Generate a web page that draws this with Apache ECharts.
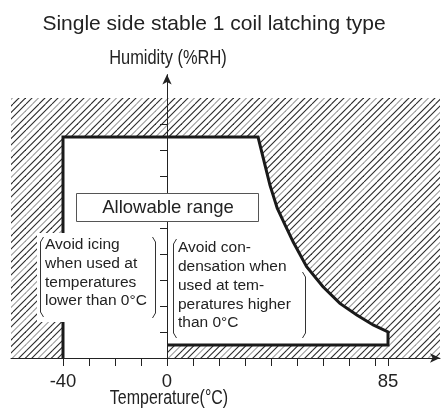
<!DOCTYPE html>
<html>
<head>
<meta charset="utf-8">
<script src="https://cdn.jsdelivr.net/npm/echarts@6/dist/echarts.min.js"></script>
<style>
html,body{margin:0;padding:0;background:#fff;}
#c{width:441px;height:415px;}
</style>
</head>
<body>
<div id="c"></div>
<script>
// ---- data ----
const titleText = 'Single side stable 1 coil latching type';
const xName = 'Temperature(°C)';
const yName = 'Humidity (%RH)';
const xTickValues = [-40, -30, -20, -10, 0, 10, 20, 30, 40, 50, 60, 70, 80, 85];
const xLabelValues = [-40, 0, 85];
const yTickValues = [10, 20, 30, 40, 50, 60, 70, 80, 90];
const yLabelValues = [5, 85];
const hatchTemp = [-60, 105];
const hatchHum = [0, 100];
// boundary of the allowable range (temperature °C, humidity %RH)
const boundaryTemp = [0, 85, 85, 79.3, 73, 66.5, 60, 53.7, 48.6, 45.4, 42.4, 39.6, 37, 35, -40, -40];
const boundaryHum  = [5, 5, 10, 12.7, 16.5, 21, 27.4, 35.1, 44.5, 51.2, 57.6, 66.5, 77, 85, 85, 0];
const fillCloseTemp = [0];
const fillCloseHum = [0];
const rangeLabel = 'Allowable range';
const iceLines = ['Avoid icing', 'when used at', 'temperatures', 'lower than 0°C'];
const condLines = ['Avoid con-', 'densation when', 'used at tem-', 'peratures higher', 'than 0°C'];

// ---- hatch pattern ----
function makeHatch() {
  const S = 26, s = 6.5;
  const cv = document.createElement('canvas');
  cv.width = S; cv.height = S;
  const ctx = cv.getContext('2d');
  ctx.fillStyle = '#fff';
  ctx.fillRect(0, 0, S, S);
  ctx.lineWidth = 1.1;
  for (let k = -4; k <= 4; k++) {
    const c = k * s;
    const m = ((k % 4) + 4) % 4;
    ctx.strokeStyle = m === 1 ? '#a0a0a0' : '#2a2a2a';
    ctx.beginPath();
    ctx.moveTo(c, S);
    ctx.lineTo(c + S, 0);
    ctx.stroke();
  }
  return cv;
}
const hatchCanvas = makeHatch();

const regular = "'Liberation Sans', Arial, sans-serif";
const ink = '#222';

const boundary = boundaryTemp.map((t, i) => [t, boundaryHum[i]]);
const fillPts = boundary.concat(fillCloseTemp.map((t, i) => [t, fillCloseHum[i]]));

const chart = echarts.init(document.getElementById('c'), null, {renderer: 'canvas'});

const option = {
  animation: false,
  backgroundColor: '#fff',
  grid: {left: 11, right: 1, top: 74.6, bottom: 57, containLabel: false, outerBoundsMode: 'none'},
  xAxis: {
    type: 'value', min: -60, max: 105, z: 10,
    axisLine: {onZero: false, lineStyle: {color: ink, width: 1}, symbol: ['none', 'arrow'], symbolSize: [7, 10]},
    axisTick: {show: true, length: 8, customValues: xTickValues, lineStyle: {color: ink}},
    axisLabel: {customValues: xLabelValues, margin: 14, color: ink, fontSize: 18.5, fontFamily: regular},
    splitLine: {show: false}
  },
  yAxis: {
    type: 'value', min: 0, max: 109, z: 10,
    axisLine: {onZero: true, lineStyle: {color: ink, width: 1}, symbol: ['none', 'arrow'], symbolSize: [7, 10]},
    axisTick: {show: true, length: 7, customValues: yTickValues, lineStyle: {color: ink}},
    axisLabel: {customValues: yLabelValues, margin: 11, color: ink, fontSize: 18.5, fontFamily: regular,
      formatter: v => v === 85 ? '{d|85}' : String(v),
      rich: {d: {fontSize: 18.5, fontFamily: regular, color: ink, padding: [30, 0, 0, 0]}}},
    splitLine: {show: false}
  },
  series: [
    {
      type: 'custom', z: 1, silent: true,
      data: [[hatchTemp[0], hatchHum[0], hatchTemp[1], hatchHum[1]]],
      renderItem: (params, api) => {
        const p1 = api.coord([api.value(0), api.value(3)]);
        const p2 = api.coord([api.value(2), api.value(1)]);
        return {type: 'rect', shape: {x: p1[0], y: p1[1], width: p2[0] - p1[0], height: p2[1] - p1[1]},
          style: {fill: {image: hatchCanvas, repeat: 'repeat'}}};
      }
    },
    {
      type: 'custom', z: 2, silent: true,
      data: fillPts,
      renderItem: (params, api) => {
        if (params.dataIndex !== 0) return null;
        const pts = fillPts.map(p => api.coord(p));
        return {type: 'polygon', shape: {points: pts}, style: {fill: '#fff', stroke: null}};
      }
    },
    {
      type: 'line', z: 5, data: boundary, symbol: 'none', silent: true,
      lineStyle: {color: '#1a1a1a', width: 3, join: 'miter'}
    }
  ]
};
chart.setOption(option);

// annotations
function bracket(x, top, bottom, dir) {
  const d = 3 * dir;
  return {type: 'polyline', z: 100, silent: true,
    shape: {points: [[x + d, top], [x, top + 5], [x, bottom - 5], [x + d, bottom]]},
    style: {stroke: '#333', lineWidth: 1, fill: null}};
}
const g = [];
g.push({type: 'text', z: 100, x: 214, y: 24,
  style: {text: titleText, font: '21px ' + regular, fill: ink, align: 'center', verticalAlign: 'middle'}});
// axis names (condensed look)
g.push({type: 'text', z: 100, x: 168, y: 58, scaleX: 0.8,
  style: {text: yName, font: '20.5px ' + regular, fill: ink, align: 'center', verticalAlign: 'middle'}});
g.push({type: 'text', z: 100, x: 169, y: 398, scaleX: 0.78,
  style: {text: xName, font: '20.5px ' + regular, fill: ink, align: 'center', verticalAlign: 'middle'}});
// allowable range box
g.push({type: 'rect', z: 100, shape: {x: 76.5, y: 193.5, width: 182, height: 28},
  style: {fill: '#fff', stroke: '#555', lineWidth: 1}});
g.push({type: 'text', z: 101, x: 168, y: 208,
  style: {text: rangeLabel, font: '18.5px ' + regular, fill: ink, align: 'center', verticalAlign: 'middle'}});
// icing block
g.push({type: 'rect', z: 100, shape: {x: 37, y: 233, width: 121, height: 89}, style: {fill: '#fff'}});
iceLines.forEach((t, i) => g.push({type: 'text', z: 101, x: 45, y: 245 + i * 18.7,
  style: {text: t, font: '15.5px ' + regular, fill: ink, align: 'left', verticalAlign: 'middle'}}));
g.push(bracket(40.5, 237, 317, 1));
g.push(bracket(155.5, 237, 318, -1));
// condensation block
condLines.forEach((t, i) => g.push({type: 'text', z: 101, x: 178, y: 248 + i * 18.8,
  style: {text: t, font: '15.5px ' + regular, fill: ink, align: 'left', verticalAlign: 'middle'}}));
g.push(bracket(173.5, 239, 338, 1));
g.push(bracket(305.5, 272, 338, -1));
chart.setOption({graphic: g});
</script>
</body>
</html>
